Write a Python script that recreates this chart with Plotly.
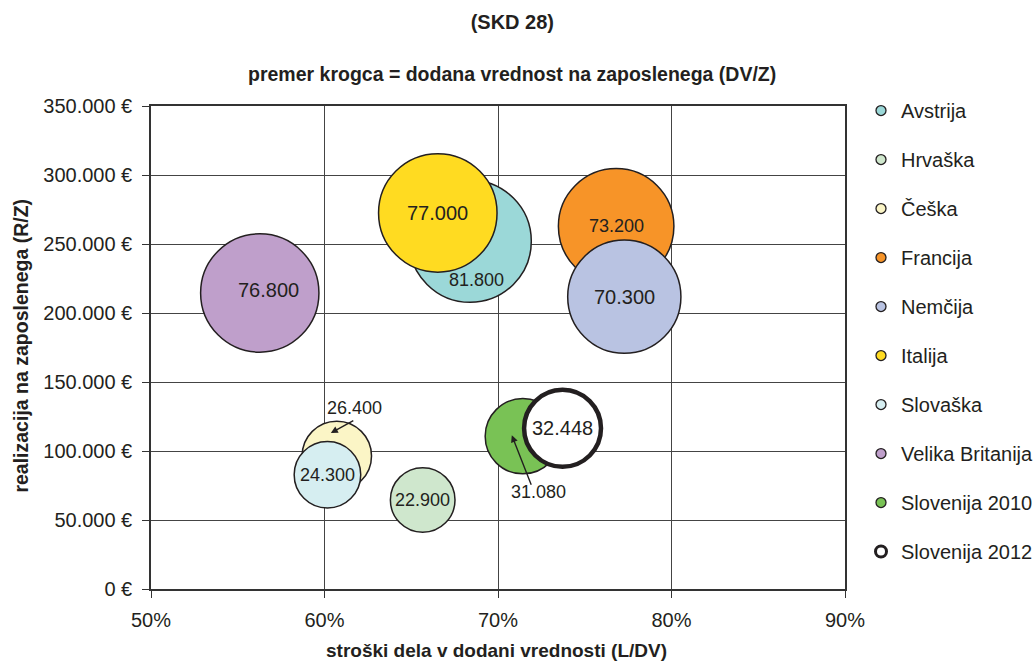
import plotly.graph_objects as go

# ---- data ----
countries = ["Avstrija", "Hrvaška", "Češka", "Francija", "Nemčija", "Italija",
             "Slovaška", "Velika Britanija", "Slovenija 2010", "Slovenija 2012"]
labor_share = [68.4, 65.66, 60.71, 76.81, 77.28, 66.53, 60.17, 56.27, 71.43, 73.72]      # L/DV, %
revenue_per_emp = [252000, 64500, 96450, 262800, 211800, 272500, 82750, 214500, 110700, 116450]  # R/Z, €
value_added_per_emp = [81800, 22900, 26400, 73200, 70300, 77000, 24300, 76800, 31080, 32448]    # DV/Z, €
x_ticks = [50, 60, 70, 80, 90]
x_tick_text = ["50%", "60%", "70%", "80%", "90%"]
y_ticks = [0, 50000, 100000, 150000, 200000, 250000, 300000, 350000]
y_tick_text = ["0 €", "50.000 €", "100.000 €", "150.000 €", "200.000 €",
               "250.000 €", "300.000 €", "350.000 €"]

# ---- styles ----
fills = ["#9BD8D8", "#CFE7CD", "#FBF5C6", "#F79428", "#B9C3E2", "#FFDB21",
         "#D6EEF1", "#BF9FCB", "#79C255", "#FFFFFF"]
line_w = [1.5] * 9 + [4.5]
legend_line_w = [1.3] * 9 + [3]
legend_size = [10] * 9 + [11]
label_size = [18, 18, 18, 18, 20, 20, 18, 20, 18, 20]
# label offsets in pixels (xshift, yshift)
label_shift = {0: (6, -39), 7: (9, 3), 2: (17.5, 48), 8: (16, -56)}
# pointer arrows: head shift (xs, ys) from bubble centre and tail offset (ax, ay)
arrows = {2: dict(xs=-6, ys=23, ax=24, ay=-13),
          8: dict(xs=-11, ys=1, ax=20, ay=51)}

FONT = "Liberation Sans, Arial, sans-serif"
INK = "#231F20"
SIZEREF = 10.97

fig = go.Figure()
for i, name in enumerate(countries):
    fig.add_trace(go.Scatter(
        x=[labor_share[i]], y=[revenue_per_emp[i]], mode="markers", name=name,
        legendgroup=name, showlegend=False,
        marker=dict(size=[value_added_per_emp[i]], sizemode="area", sizeref=SIZEREF,
                    color=fills[i], opacity=1,
                    line=dict(color=INK, width=line_w[i])),
        hoverinfo="name+x+y"))
for i, name in enumerate(countries):
    fig.add_trace(go.Scatter(
        x=[None], y=[None], mode="markers", name=name, legendgroup=name,
        showlegend=True,
        marker=dict(size=legend_size[i], color=fills[i],
                    line=dict(color=INK, width=legend_line_w[i]))))

anns = []
for i, v in enumerate(value_added_per_emp):
    txt = f"{v:,}".replace(",", ".")
    xs, ys = label_shift.get(i, (0, 0))
    anns.append(dict(x=labor_share[i], y=revenue_per_emp[i], xref="x", yref="y",
                     text=txt, showarrow=False, xshift=xs, yshift=ys,
                     xanchor="center", yanchor="middle",
                     font=dict(family=FONT, size=label_size[i], color=INK)))
    if i in arrows:
        a = arrows[i]
        anns.append(dict(x=labor_share[i], y=revenue_per_emp[i], xref="x", yref="y",
                         text="", showarrow=True, arrowhead=2, arrowsize=1,
                         arrowwidth=1.4, arrowcolor=INK, standoff=0, startstandoff=0,
                         xshift=a["xs"], yshift=a["ys"], ax=a["ax"], ay=a["ay"]))

anns.append(dict(text="<b>premer krogca = dodana vrednost na zaposlenega (DV/Z)</b>",
                 x=0.52, y=1.066, xref="paper", yref="paper", showarrow=False,
                 xanchor="center", yanchor="middle",
                 font=dict(family=FONT, size=19.5, color=INK)))
anns.append(dict(text="<b>realizacija na zaposlenega (R/Z)</b>", textangle=-90,
                 x=-0.1866, y=0.505, xref="paper", yref="paper", showarrow=False,
                 xanchor="center", yanchor="middle",
                 font=dict(family=FONT, size=19.5, color=INK)))
anns.append(dict(text="<b>stroški dela v dodani vrednosti (L/DV)</b>",
                 x=0.498, y=-0.1263, xref="paper", yref="paper", showarrow=False,
                 xanchor="center", yanchor="middle",
                 font=dict(family=FONT, size=19, color=INK)))

legend = dict(x=(861 - 151) / 694, y=1.0, xanchor="left", yanchor="top",
              traceorder="grouped", tracegroupgap=20,
              font=dict(family=FONT, size=20, color=INK),
              bgcolor="rgba(0,0,0,0)")

fig.update_layout(
    width=1035, height=663,
    margin=dict(l=151, r=190, t=106, b=74, autoexpand=False),
    paper_bgcolor="white", plot_bgcolor="white",
    title=dict(text="<b>(SKD 28)</b>", x=0.495, xanchor="center", y=1 - 22 / 663,
               yanchor="middle", font=dict(family=FONT, size=20, color=INK)),
    font=dict(family=FONT, color=INK),
    annotations=anns,
    legend=legend,
    showlegend=True,
)
try:
    fig.update_layout(legend_maxheight=600, legend_y=1.031)
except Exception:
    pass

fig.update_xaxes(range=[50, 90], tickmode="array", tickvals=x_ticks, ticktext=x_tick_text,
                 showgrid=True, gridcolor="#444444", gridwidth=1,
                 showline=True, mirror=True, linecolor="#333333", linewidth=1.5,
                 ticks="outside", ticklen=7, tickcolor="#333333",
                 ticklabelstandoff=5, zeroline=False,
                 tickfont=dict(family=FONT, size=20, color=INK))
fig.update_yaxes(range=[0, 350000], tickmode="array", tickvals=y_ticks, ticktext=y_tick_text,
                 showgrid=True, gridcolor="#444444", gridwidth=1,
                 showline=True, mirror=True, linecolor="#333333", linewidth=1.5,
                 ticks="outside", ticklen=7, tickcolor="#333333",
                 ticklabelstandoff=6, zeroline=False,
                 tickfont=dict(family=FONT, size=20, color=INK))

fig.write_html("out.html", config={"displayModeBar": False},
               post_script="document.body.style.margin='0';")
